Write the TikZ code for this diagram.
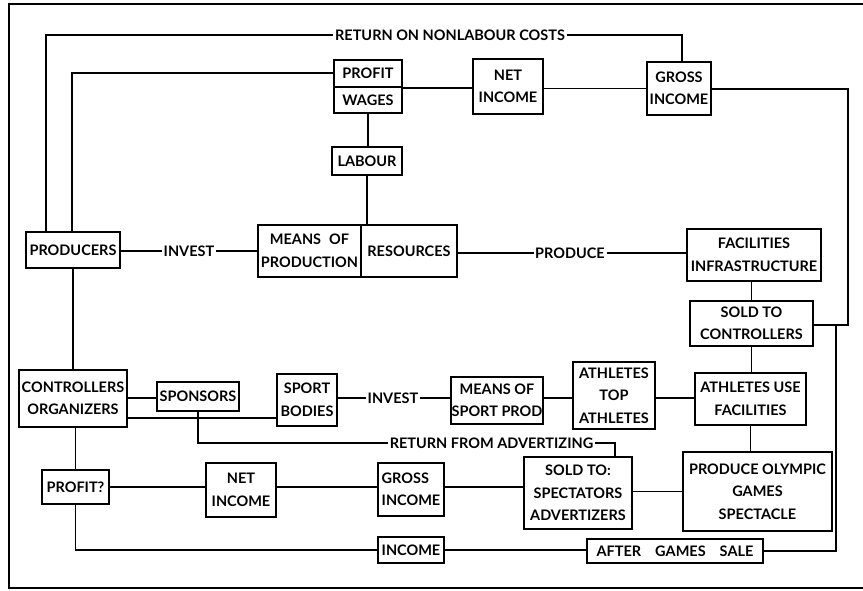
\documentclass[tikz,border=0pt]{standalone}
\usepackage{fontspec}
\setmainfont{Lato}
\begin{document}
\begin{tikzpicture}[x=1pt,y=-1pt,
  txt/.style={font=\fontsize{14.5}{22.5}\selectfont\bfseries},
  box/.style={txt,draw,line width=1.6pt,inner sep=0pt,align=center},
  lbl/.style={txt,inner sep=1.5pt},
  conn/.style={line width=1.5pt},
  frame/.style={line width=2.2pt}]
\useasboundingbox (0,0) rectangle (863,591);
% frame
\draw[frame] (863,4) -- (9,4) -- (9,588) -- (863,588);
% top row
\node[box,minimum width=68pt,minimum height=27pt] (profit) at (368,73.5) {PROFIT};
\node[box,minimum width=68pt,minimum height=26pt] (wages) at (368,100) {WAGES};
\node[box,minimum width=70pt,minimum height=55pt] (net1) at (508,86.5) {NET\\INCOME};
\node[box,minimum width=64pt,minimum height=53pt] (gross1) at (679,88.5) {GROSS\\INCOME};
\node[box,minimum width=70pt,minimum height=28pt] (labour) at (367,161) {LABOUR};
% production row
\node[box,minimum width=103pt,minimum height=52pt] (means) at (309.5,251) {MEANS\hspace{8pt}OF\\PRODUCTION};
\node[box,minimum width=96pt,minimum height=52pt] (resources) at (409,251) {RESOURCES};
\node[box,minimum width=94pt,minimum height=36pt] (producers) at (73,250) {PRODUCERS};
\node[box,minimum width=134pt,minimum height=52pt] (facilities) at (754,255) {FACILITIES\\INFRASTRUCTURE};
\node[box,minimum width=123pt,minimum height=45pt] (sold1) at (751.5,323.5) {SOLD TO\\CONTROLLERS};
% sport row
\node[box,minimum width=108pt,minimum height=57pt] (controllers) at (73,398.5) {CONTROLLERS\\ORGANIZERS};
\node[box,minimum width=82pt,minimum height=29pt] (sponsors) at (198,396.5) {SPONSORS};
\node[box,minimum width=60pt,minimum height=52pt] (sport) at (307,400) {SPORT\\BODIES};
\node[box,minimum width=92pt,minimum height=47pt] (meanssport) at (497,400.5) {MEANS OF\\SPORT PROD};
\node[box,minimum width=82pt,minimum height=67pt] (athletes) at (614,395.5) {ATHLETES\\TOP\\ATHLETES};
\node[box,minimum width=111pt,minimum height=52pt] (athuse) at (750.5,399) {ATHLETES USE\\FACILITIES};
% games row
\node[box,minimum width=149pt,minimum height=79pt] (olympic) at (757.5,491.5) {PRODUCE OLYMPIC\\GAMES\\SPECTACLE};
\node[box,minimum width=108pt,minimum height=72pt] (sold2) at (578,493) {SOLD TO:\\SPECTATORS\\ADVERTIZERS};
\node[box,minimum width=67pt,minimum height=34pt] (profitq) at (75.5,487) {PROFIT?};
\node[box,minimum width=70pt,minimum height=54pt] (net2) at (241,490) {NET\\INCOME};
\node[box,minimum width=66pt,minimum height=53pt,align=left] (gross2) at (411,489.5) {GROSS\\INCOME};
\node[box,minimum width=66pt,minimum height=26pt] (income) at (411,550) {INCOME};
\node[box,minimum width=176pt,minimum height=24pt] (aftersale) at (675,551) {AFTER\hspace{14pt}GAMES\hspace{14pt}SALE};
% labels
\node[lbl] (retnl) at (450,35) {RETURN ON NONLABOUR COSTS};
\node[lbl] (invest1) at (189,251) {INVEST};
\node[lbl] (produce) at (570,253) {PRODUCE};
\node[lbl] (invest2) at (393,398) {INVEST};
\node[lbl] (retadv) at (491.5,443) {RETURN FROM ADVERTIZING};
% bend points
\coordinate (oL) at (46,35);
\coordinate (oR) at (682,35);
\coordinate (iL) at (72,73);
\coordinate (rT) at (848,89);
\coordinate (rB) at (848,325);
\coordinate (jR) at (836,325);
\coordinate (jB) at (836,551);
\coordinate (ra1) at (198,443);
\coordinate (ra2) at (615,443);
% connectors
\draw[conn] (oL |- producers.north) -- (oL) -- (retnl.west);
\draw[conn] (retnl.east) -- (oR) -- (oR |- gross1.north);
\draw[conn] (iL |- producers.north) -- (iL) -- (iL -| profit.west);
\draw[conn] (profit.south east) -- (net1.west |- profit.south east);
\draw[conn] (net1.east |- gross1.west) -- (gross1.west);
\draw[conn] (gross1.east |- rT) -- (rT) -- (rB) -- (rB -| sold1.east);
\draw[conn] (jR) -- (jB) -- (jB -| aftersale.east);
\draw[conn] (wages.south) -- (wages.south |- labour.north);
\draw[conn] (labour.south) -- (labour.south |- resources.north);
\draw[conn] (producers.east |- invest1.west) -- (invest1.west);
\draw[conn] (invest1.east) -- (invest1.east -| means.west);
\draw[conn] (resources.east |- produce.west) -- (produce.west);
\draw[conn] (produce.east) -- (produce.east -| facilities.west);
\draw[conn] (sold1.north |- facilities.south) -- (sold1.north);
\draw[conn] (sold1.south) -- (sold1.south |- athuse.north);
\draw[conn] (athuse.south) -- (athuse.south |- olympic.north);
\draw[conn] (producers.south) -- (producers.south |- controllers.north);
\draw[conn] (controllers.east |- invest2.west) -- (controllers.east |- invest2.west -| sponsors.west);
\draw[conn] ([yshift=-19.5pt]controllers.east) -- ([yshift=-19.5pt]controllers.east -| sport.west);
\draw[conn] (sport.east |- invest2.west) -- (invest2.west);
\draw[conn] (invest2.east) -- (invest2.east -| meanssport.west);
\draw[conn] (meanssport.east |- invest2.east) -- (athletes.west |- invest2.east);
\draw[conn] (athletes.east |- invest2.east) -- (athuse.west |- invest2.east);
\draw[conn] (sponsors.south) -- (sponsors.south |- ra1) -- (retadv.west);
\draw[conn] (retadv.east) -- (ra2) -- (ra2 |- sold2.north);
\draw[conn] (profitq.north |- controllers.south) -- (profitq.north);
\draw[conn] (profitq.east) -- (profitq.east -| net2.west);
\draw[conn] (net2.east |- profitq.east) -- (gross2.west |- profitq.east);
\draw[conn] (gross2.east |- profitq.east) -- (sold2.west |- profitq.east);
\draw[conn] (sold2.east |- olympic.west) -- (olympic.west);
\draw[conn] (profitq.south) -- (profitq.south |- income.west) -- (income.west);
\draw[conn] (income.east) -- (income.east -| aftersale.west);
\end{tikzpicture}
\end{document}
